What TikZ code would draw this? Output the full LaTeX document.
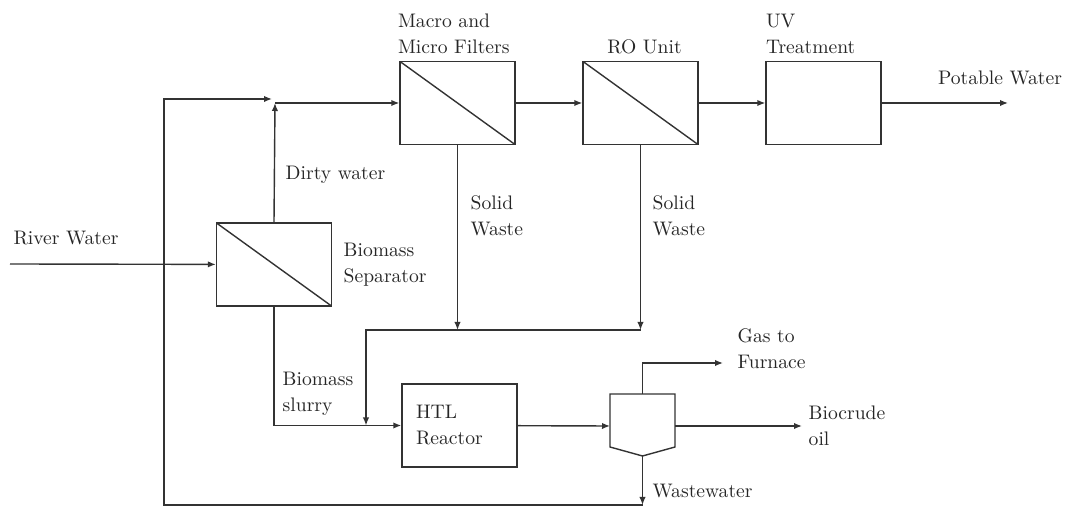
\documentclass[tikz,border=0pt]{standalone}
\usepackage{tikz}
\usetikzlibrary{arrows.meta}

\begin{document}
\begin{tikzpicture}[
		x = .5pt, y = -.5pt, line width = .7pt, draw = black!80,
		>={Latex[length=4pt, width=3.2pt]},
		every node/.style = {font = \fontsize{9.8}{13}\selectfont, text = black!85},
		unit/.style = {draw, rectangle, minimum width = 57.5pt, minimum height = 41.5pt, inner sep = 0pt},
		membrane/.style = {unit, path picture = {
				\draw (path picture bounding box.north west) -- (path picture bounding box.south east);}}
		]
		\useasboundingbox (0,0) rectangle (1066,512);
		% Units
		\node[membrane] (filt) at (457.5,103) {};
		\node[membrane] (ro)   at (640.5,103) {};
		\node[unit]     (uv)   at (823.5,103) {};
		\node[membrane] (bsep) at (274,264.5) {};
		\node[unit, align = left, text width = 43.5pt, inner xsep = 7pt] (htl) at (459.5,425.5) {HTL\\Reactor};
		% flash separator
		\draw (610,394) coordinate (fnw) -- (642.5,394) coordinate (ftop) -- (675,394) coordinate (fne)
			-- (675,447) -- (642.5,456) coordinate (fs) -- (610,447) -- cycle;
		\coordinate (fwest) at (610,426);
		\coordinate (feast) at (675,426);
		% free ends and junctions
		\coordinate (river) at (10,264);
		\coordinate (mix)   at (275,103);
		\coordinate (mixin) at (272,99);
		\coordinate (rc)    at (164,99);
		\coordinate (pw)    at (1008,103);
		\coordinate (swl)   at (366,330);
		\coordinate (gas)   at (723,363);
		\coordinate (oil)   at (802,426);
		\coordinate (ww)    at (642.5,505);
		% Streams
		\draw[->] (river) -- (bsep);
		\draw[->] (bsep.north) -- (mix);
		\draw[->] (mix) -- (filt.west);
		\draw[->] (filt) -- (ro);
		\draw[->] (ro) -- (uv);
		\draw[->] (uv) -- (pw);
		\draw[->] (filt.south) -- (filt.south |- swl);
		\draw[->] (ro.south) -- (ro.south |- swl);
		\draw[->] (ro.south |- swl) -- (swl) -- (swl |- htl.west);
		\draw[->] (bsep.south) |- (htl.west);
		\draw[->] (htl) -- (fwest);
		\draw[->] (ftop) |- (gas);
		\draw[->] (feast) -- (oil);
		\draw[->] (fs) -- (ww);
		\draw[->] (ww) -| (rc) -- (mixin);
		% Labels
		\begin{scope}[nodes = {inner sep = 0pt, align = left}]
			\node[anchor = south west] at ([xshift=-1pt, yshift=3pt]filt.north west) {Macro and\\Micro Filters};
			\node[anchor = south] at ([xshift=2pt, yshift=3pt]ro.north) {RO Unit};
			\node[anchor = south west] at ([yshift=3pt]uv.north west) {UV\\Treatment};
			\node at (1000,78) {Potable Water};
			\node at (66,238) {River Water};
			\node[anchor = west] at (285,175) {Dirty water};
			\node[anchor = west] at (343,265) {Biomass\\Separator};
			\node[anchor = west] at (470,216) {Solid\\Waste};
			\node[anchor = west] at (652,216) {Solid\\Waste};
			\node[anchor = west] at (282,394) {Biomass\\slurry};
			\node[anchor = west] at (737,349) {Gas to\\Furnace};
			\node[anchor = west] at (808,426) {Biocrude\\oil};
			\node[anchor = west] at (652,491) {Wastewater};
		\end{scope}
	\end{tikzpicture}
\end{document}
